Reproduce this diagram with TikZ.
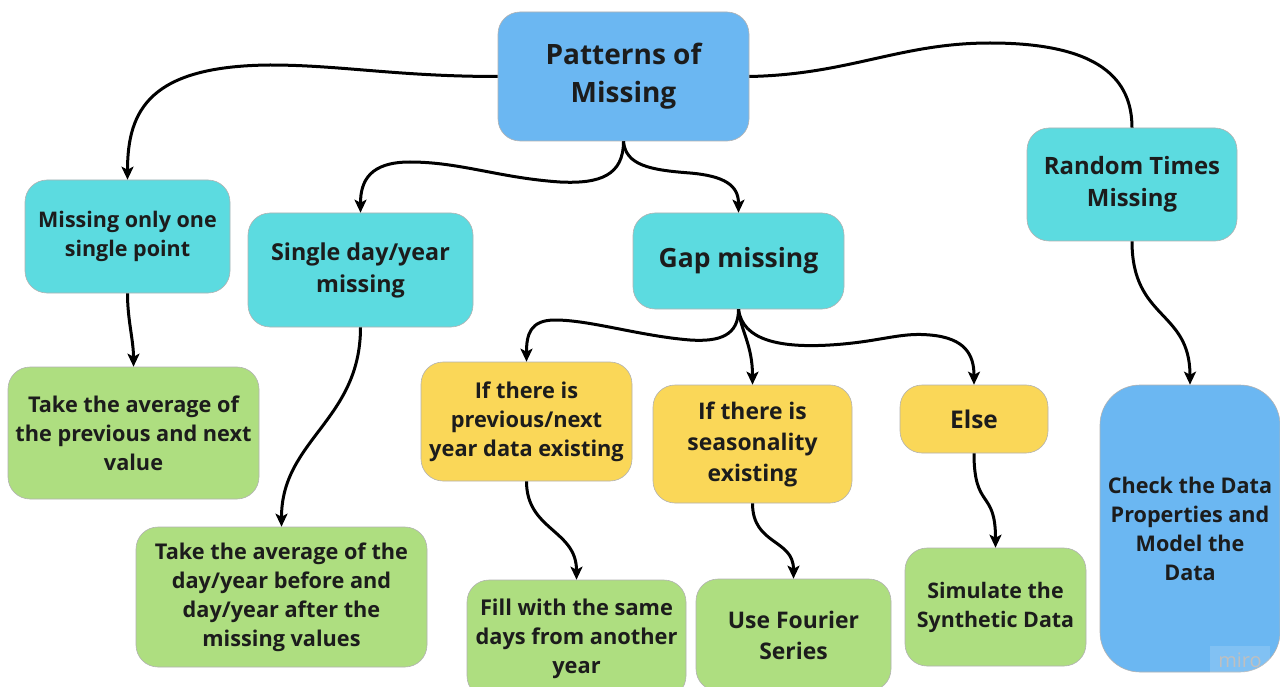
\documentclass[tikz,border=0pt]{standalone}
\usepackage{fontspec}
\setmainfont{Open Sans}
\usetikzlibrary{arrows.meta}
\definecolor{cblue}{HTML}{6BB7F2}
\definecolor{ccyan}{HTML}{5CDBE0}
\definecolor{cyell}{HTML}{FAD758}
\definecolor{cgreen}{HTML}{AEDE80}
\definecolor{ctext}{HTML}{1C1C1C}
\tikzset{
  box/.style={rounded corners=22pt, draw=black!30, line width=0.6pt, inner sep=0pt,
    align=center, text=ctext},
  fsz/.style 2 args={font=\bfseries\fontsize{#1}{#2}\selectfont},
  bluebox/.style={box, fill=cblue},
  cyanbox/.style={box, fill=ccyan},
  yellbox/.style={box, fill=cyell},
  greenbox/.style={box, fill=cgreen},
  conn/.style={line width=3pt, black},
  arr/.style={conn, -{Stealth[length=13pt,width=12pt,inset=3pt]}},
}
\begin{document}
\begin{tikzpicture}[x=1pt,y=-1pt]
\fill[white] (0,0) rectangle (1280,687);
\clip (0,0) rectangle (1280,687);
\useasboundingbox (0,0) rectangle (1280,687);

\node[bluebox, fsz={28}{38}, minimum width=251pt, minimum height=129pt] (pat) at (623.5,76.5) {Patterns of\\Missing};
\node[cyanbox, fsz={21.5}{29}, minimum width=205pt, minimum height=113pt] (one) at (127.5,236.5) {Missing only one\\single point};
\node[cyanbox, fsz={23.3}{32}, minimum width=225pt, minimum height=114pt] (single) at (360.5,270) {Single day/year\\missing};
\node[cyanbox, fsz={26.5}{32}, minimum width=211pt, minimum height=96pt] (gap) at (738.5,261) {Gap missing};
\node[cyanbox, fsz={23.9}{32}, minimum width=210pt, minimum height=113pt] (rand) at (1132,184.5) {Random Times\\Missing};
\node[greenbox, fsz={21.7}{29}, minimum width=251pt, minimum height=132pt] (avga) at (133.5,433) {Take the average of\\the previous and next\\value};
\node[greenbox, fsz={21.7}{29}, minimum width=291pt, minimum height=140pt] (avgb) at (281.5,597) {Take the average of the\\day/year before and\\day/year after the\\missing values};
\node[yellbox, fsz={21.8}{29}, minimum width=211pt, minimum height=119pt] (prev) at (526.5,421.5) {If there is\\previous/next\\year data existing};
\node[yellbox, fsz={22.9}{31}, minimum width=199pt, minimum height=118pt] (seas) at (752.5,444) {If there is\\seasonality\\existing};
\node[yellbox, fsz={24.4}{32}, minimum width=148pt, minimum height=68pt] (els) at (974,419) {Else};
\node[greenbox, fsz={21.8}{29}, minimum width=219pt, minimum height=118pt] (fill) at (576.5,639) {Fill with the same\\days from another\\year};
\node[greenbox, fsz={22.9}{31}, minimum width=195pt, minimum height=112pt] (four) at (793.5,635) {Use Fourier\\Series};
\node[greenbox, fsz={21.4}{29}, minimum width=181pt, minimum height=118pt] (sim) at (995.5,607) {Simulate the\\Synthetic Data};
\node[bluebox, fsz={21.6}{29}, rounded corners=40pt, minimum width=180pt, minimum height=287pt] (check) at (1190,528.5) {Check the Data\\Properties and\\Model the\\Data};

% miro watermark
\node[fill=white, fill opacity=0.15, text opacity=1, text=black!25, inner sep=0pt,
  minimum width=60pt, minimum height=28pt, font=\fontsize{20}{22}\selectfont] (miro) at (1240,660) {miro};

% connectors
\coordinate (c1) at (270,65);
\draw[arr] (pat.west) .. controls +(-100,0) and +(70,0) .. (c1) .. controls +(-120,1) and +(0,-70) .. (one.north);
\coordinate (c2) at (990,43);
\draw[conn] (pat.east) .. controls +(100,-2) and +(-90,0) .. (c2) .. controls +(110,0) and +(0,-48) .. (rand.north);

\coordinate (c3) at (560,182);
\coordinate (c4) at (410,162);
\draw[arr] (pat.south) .. controls +(0,34) and +(40,2) .. (c3) .. controls +(-60,-4) and +(50,0) .. (c4) .. controls +(-40,0) and +(0,-32) .. (single.north);
\coordinate (c5) at (690,173);
\draw[arr] (pat.south) .. controls +(2,24) and +(-40,-3) .. (c5) .. controls +(35,3) and +(0,-27) .. (gap.north);

\draw[arr] (one.south) .. controls +(0,27) and +(0,-27) .. (avga.north);
\draw[arr] (single.south) .. controls +(0,93) and +(0,-87) .. (avgb.north);

\coordinate (c6) at (690,340);
\coordinate (c7) at (555,320);
\draw[arr] (gap.south) .. controls +(0,26) and +(30,2) .. (c6) .. controls +(-50,-4) and +(35,0) .. (c7) .. controls +(-25,0) and +(0,-27) .. (prev.north);
\draw[arr] (gap.south) .. controls +(2,21) and +(0,-40) .. (seas.north);
\coordinate (c8) at (830,345);
\coordinate (c9) at (930,335);
\draw[arr] (gap.south) .. controls +(4,31) and +(-50,3) .. (c8) .. controls +(50,-3) and +(-30,-3) .. (c9) .. controls +(35,3) and +(0,-30) .. (els.north);

\draw[arr] (prev.south) .. controls +(0,49) and +(0,-50) .. (fill.north);
\draw[arr] (seas.south) .. controls +(0,42) and +(0,-40) .. (four.north);
\draw[arr] (els.south) .. controls +(0,57) and +(0,-59) .. (sim.north);
\draw[arr] (rand.south) .. controls +(0,79) and +(0,-75) .. (check.north);
\end{tikzpicture}
\end{document}
